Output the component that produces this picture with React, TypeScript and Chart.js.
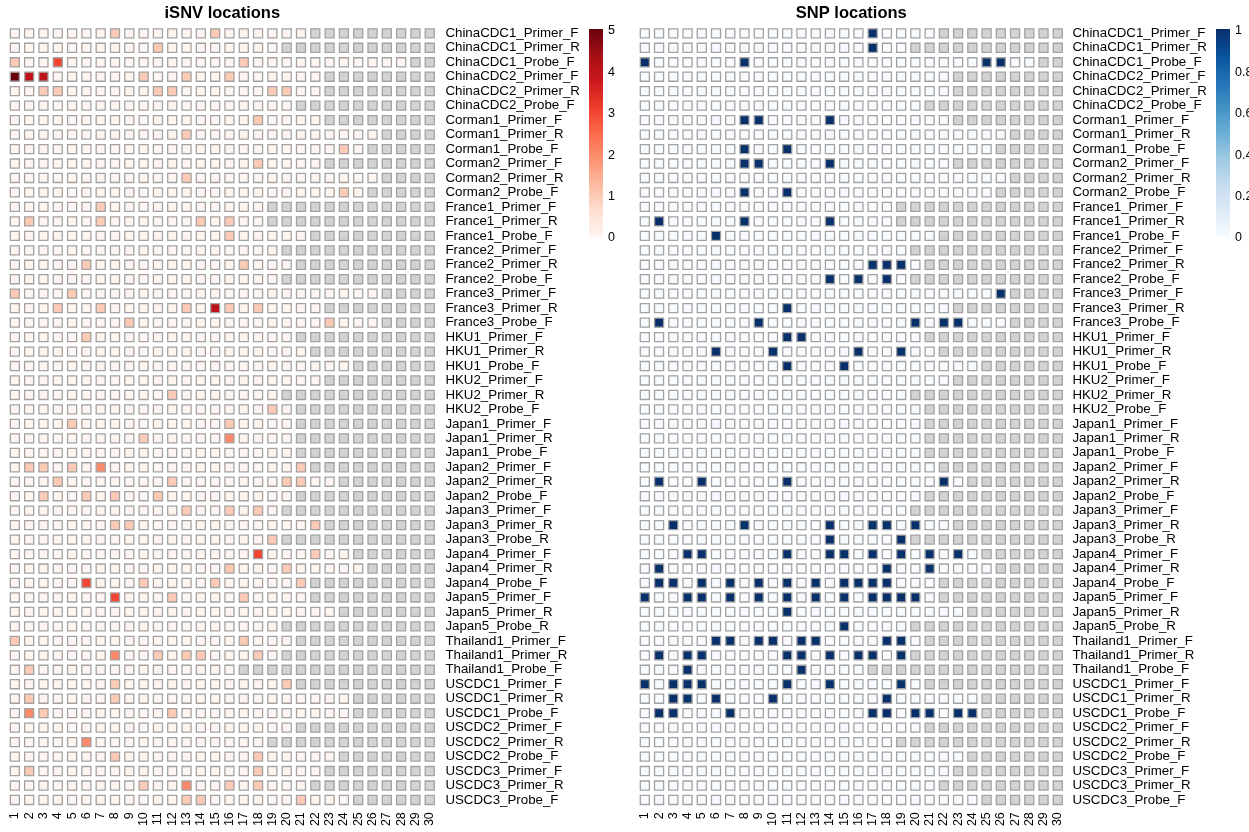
import React, { useEffect, useRef } from "react";
import { Chart, registerables } from "chart.js";
Chart.register(...registerables);

const FONT = "'Liberation Sans', Arial, Helvetica, sans-serif";

const positionLabels = ["1","2","3","4","5","6","7","8","9","10","11","12","13","14","15","16","17","18","19","20","21","22","23","24","25","26","27","28","29","30"];

const primers = [
  "ChinaCDC1_Primer_F","ChinaCDC1_Primer_R","ChinaCDC1_Probe_F",
  "ChinaCDC2_Primer_F","ChinaCDC2_Primer_R","ChinaCDC2_Probe_F",
  "Corman1_Primer_F","Corman1_Primer_R","Corman1_Probe_F",
  "Corman2_Primer_F","Corman2_Primer_R","Corman2_Probe_F",
  "France1_Primer_F","France1_Primer_R","France1_Probe_F",
  "France2_Primer_F","France2_Primer_R","France2_Probe_F",
  "France3_Primer_F","France3_Primer_R","France3_Probe_F",
  "HKU1_Primer_F","HKU1_Primer_R","HKU1_Probe_F",
  "HKU2_Primer_F","HKU2_Primer_R","HKU2_Probe_F",
  "Japan1_Primer_F","Japan1_Primer_R","Japan1_Probe_F",
  "Japan2_Primer_F","Japan2_Primer_R","Japan2_Probe_F",
  "Japan3_Primer_F","Japan3_Primer_R","Japan3_Probe_R",
  "Japan4_Primer_F","Japan4_Primer_R","Japan4_Probe_F",
  "Japan5_Primer_F","Japan5_Primer_R","Japan5_Probe_R",
  "Thailand1_Primer_F","Thailand1_Primer_R","Thailand1_Probe_F",
  "USCDC1_Primer_F","USCDC1_Primer_R","USCDC1_Probe_F",
  "USCDC2_Primer_F","USCDC2_Primer_R","USCDC2_Probe_F",
  "USCDC3_Primer_F","USCDC3_Primer_R","USCDC3_Probe_F",
];

// number of nucleotide positions in each primer/probe (beyond this: NA, grey)
const primerLengths = [
  21,19,28,22,22,20,22,26,25,22,
  26,25,18,18,21,19,20,19,26,22,
  26,20,21,24,22,19,20,20,20,20,
  21,23,20,19,22,19,24,25,21,21,
  23,19,20,19,16,20,24,24,20,18,
  23,22,21,24,
];

// iSNV counts: [position, count] per primer
const isnvHits: [number, number][][] = [
  [[8,1],[15,1]],
  [[11,1]],
  [[1,1],[4,3],[17,1]],
  [[1,5],[2,4],[3,4],[10,1],[13,1],[16,1]],
  [[3,1],[4,1],[11,1],[12,1],[19,1],[20,1]],
  [],
  [[18,1]],
  [[13,1]],
  [[24,1]],
  [[18,1]],
  [[13,1]],
  [[24,1]],
  [[7,1]],
  [[2,1],[7,1],[14,1],[16,1]],
  [[16,1]],
  [],
  [[6,1],[17,1]],
  [],
  [[1,1],[5,1]],
  [[4,1],[7,1],[13,1],[15,4],[16,1],[18,1]],
  [[9,1],[23,1]],
  [[6,1]],
  [],
  [],
  [],
  [[12,1]],
  [[19,1]],
  [[5,1],[16,1]],
  [[10,1],[16,2]],
  [],
  [[2,1],[3,1],[5,1],[7,2],[21,1]],
  [[4,1],[12,1],[20,1],[21,1]],
  [[3,1],[6,1],[8,1],[11,1]],
  [[13,1],[16,1],[18,1]],
  [[8,1],[9,1],[22,1]],
  [[19,1]],
  [[18,3],[22,1]],
  [[16,1],[20,1]],
  [[6,3],[10,1],[15,1],[21,1]],
  [[8,3],[12,1],[17,1]],
  [],
  [],
  [[1,1],[17,1]],
  [[8,2],[11,1],[13,1],[14,1],[18,1]],
  [[2,1]],
  [[8,1],[20,1]],
  [[2,1],[8,1]],
  [[2,2],[3,1],[12,1]],
  [],
  [[6,2]],
  [[8,1],[18,1]],
  [[2,1],[18,1]],
  [[10,1],[13,2],[16,1],[18,1]],
  [[13,1],[14,1],[21,1]],
];

// SNP present (value 1) at these positions per primer
const snpHits: number[][] = [
  [17],[17],[1,8,25,26],
  [],[],[],
  [8,9,14],[],[8,11],
  [8,9,14],[],[8,11],
  [],[2,8,14],[6],
  [],[17,18,19],[14,16,18],
  [26],[11],[2,9,20,22,23],
  [11,12],[6,10,16,19],[11,15],
  [],[],[],
  [],[],[],
  [],[2,5,11,22],[],
  [],[3,8,14,17,18,20],[14,19],
  [4,5,11,14,15,17,19,21,23],[2,18,21],[2,3,5,7,9,11,13,15,16,17,18],
  [1,4,5,7,9,11,13,15,17,18,19,20],[11],[15],
  [6,7,9,10,12,13,18,19],[2,4,5,11,12,14,16,17,19],[4,12],
  [1,3,4,5,11,14,19],[3,4,6,10,18],[2,3,7,17,18,20,21,23,24],
  [],[],[],
  [],[],[],
];

const redsPalette = ["#fff5f0","#fee0d2","#fcbba1","#fc9272","#fb6a4a","#ef3b2c","#cb181d","#a50f15","#67000d"];
const bluesPalette = ["#f7fbff","#deebf7","#c6dbef","#9ecae1","#6baed6","#4292c6","#2171b5","#08519c","#08306b"];
const isnvTicks = ["0","1","2","3","4","5"];
const snpTicks = ["0","0.2","0.4","0.6","0.8","1"];

const NA_COLOR = "#d3d3d3";
const BORDER = "#a2a2a2";

function hexToRgb(h: string) {
  return [parseInt(h.slice(1, 3), 16), parseInt(h.slice(3, 5), 16), parseInt(h.slice(5, 7), 16)];
}
function paletteColor(stops: string[], t: number) {
  const p = Math.max(0, Math.min(1, t)) * (stops.length - 1);
  const i = Math.min(stops.length - 2, Math.floor(p));
  const f = p - i;
  const a = hexToRgb(stops[i]);
  const b = hexToRgb(stops[i + 1]);
  const c = a.map((v, k) => Math.round(v + (b[k] - v) * f));
  return `rgb(${c[0]},${c[1]},${c[2]})`;
}

type Cell = { x: number; y: number; v: number | null };

const isnvCells: Cell[] = primers.flatMap((_, r) =>
  positionLabels.map((_, c) => {
    const col = c + 1;
    if (col > primerLengths[r]) return { x: col, y: r + 1, v: null };
    const hit = isnvHits[r].find((h) => h[0] === col);
    return { x: col, y: r + 1, v: hit ? hit[1] : 0 };
  })
);
const snpCells: Cell[] = primers.flatMap((_, r) =>
  positionLabels.map((_, c) => {
    const col = c + 1;
    if (col > primerLengths[r]) return { x: col, y: r + 1, v: null };
    return { x: col, y: r + 1, v: snpHits[r].includes(col) ? 1 : 0 };
  })
);

type PanelProps = {
  left: number;
  width: number;
  areaLeft: number;
  areaRight: number;
  labelPad: number;
  title: string;
  cells: Cell[];
  palette: string[];
  maxValue: number;
  barX: number;
  barTicks: string[];
};

function Panel(props: PanelProps) {
  const ref = useRef<HTMLCanvasElement>(null);
  useEffect(() => {
    const { width, areaLeft, areaRight, labelPad, title, cells, palette, maxValue, barX, barTicks } = props;
    const decor = {
      id: "decor",
      afterDraw(chart: any) {
        const ctx = chart.ctx as CanvasRenderingContext2D;
        const area = chart.chartArea;
        ctx.save();
        ctx.fillStyle = "#000";
        ctx.font = `bold 16.5px ${FONT}`;
        ctx.textAlign = "center";
        ctx.textBaseline = "middle";
        ctx.fillText(title, (area.left + area.right) / 2, 13);
        // colour bar
        const top = 29, bottom = 237, bw = 14;
        const g = ctx.createLinearGradient(0, bottom, 0, top);
        palette.forEach((c, i) => g.addColorStop(i / (palette.length - 1), c));
        ctx.fillStyle = g;
        ctx.fillRect(barX, top, bw, bottom - top);
        ctx.fillStyle = "#000";
        ctx.font = `12.5px ${FONT}`;
        ctx.textAlign = "left";
        ctx.textBaseline = "middle";
        barTicks.forEach((t, i) => {
          const y = 238 - (i / (barTicks.length - 1)) * 207;
          ctx.fillText(t, barX + 19, y);
        });
        ctx.restore();
      },
    };
    const chart = new Chart(ref.current as HTMLCanvasElement, {
      type: "scatter",
      data: {
        datasets: [
          {
            data: cells as any,
            pointStyle: "rect",
            pointRadius: 6.4,
            pointHoverRadius: 6.4,
            pointBorderWidth: 1.3,
            pointHoverBorderWidth: 1.3,
            pointBorderColor: BORDER,
            pointBackgroundColor: (c: any) => {
              const v = c.raw ? c.raw.v : null;
              if (v === null || v === undefined) return NA_COLOR;
              return paletteColor(palette, v / maxValue);
            },
          } as any,
        ],
      },
      options: {
        responsive: false,
        animation: false,
        events: [],
        layout: { padding: { left: areaLeft, top: 26.1, right: 0, bottom: 0 } },
        plugins: { legend: { display: false }, tooltip: { enabled: false }, title: { display: false } },
        scales: {
          x: {
            type: "linear",
            min: 0.5,
            max: 30.5,
            position: "bottom",
            grid: { display: false, drawTicks: false },
            border: { display: false },
            afterBuildTicks: (s: any) => {
              s.ticks = positionLabels.map((_, i) => ({ value: i + 1 }));
            },
            afterFit: (s: any) => {
              s.height = 24.8;
            },
            ticks: {
              autoSkip: false,
              minRotation: 90,
              maxRotation: 90,
              padding: 5,
              color: "#000",
              font: { family: FONT, size: 12.5 },
              callback: (v: any) => positionLabels[Math.round(v) - 1],
            },
          },
          y: {
            type: "linear",
            min: 0.5,
            max: 54.5,
            reverse: true,
            position: "right",
            grid: { display: false, drawTicks: false },
            border: { display: false },
            afterBuildTicks: (s: any) => {
              s.ticks = primers.map((_, i) => ({ value: i + 1 }));
            },
            afterFit: (s: any) => {
              s.width = width - areaRight;
            },
            ticks: {
              autoSkip: false,
              padding: labelPad,
              color: "#000",
              font: { family: FONT, size: 13.3 },
              callback: (v: any) => primers[Math.round(v) - 1],
            },
          },
        },
      },
      plugins: [decor],
    });
    return () => chart.destroy();
  }, []);
  return (
    <canvas
      ref={ref}
      width={props.width}
      height={832}
      style={{ position: "absolute", left: props.left, top: 0, width: props.width, height: 832 }}
    />
  );
}

export default function App() {
  return (
    <div style={{ position: "absolute", left: 0, top: 0, width: 1249, height: 832, background: "#fff", overflow: "hidden" }}>
      <Panel
        left={0}
        width={630}
        areaLeft={6.1}
        areaRight={436.9}
        labelPad={8.5}
        title="iSNV locations"
        cells={isnvCells}
        palette={redsPalette}
        maxValue={5}
        barX={589}
        barTicks={isnvTicks}
      />
      <Panel
        left={630}
        width={619}
        areaLeft={4.1}
        areaRight={434.9}
        labelPad={7.5}
        title="SNP locations"
        cells={snpCells}
        palette={bluesPalette}
        maxValue={1}
        barX={586}
        barTicks={snpTicks}
      />
    </div>
  );
}
